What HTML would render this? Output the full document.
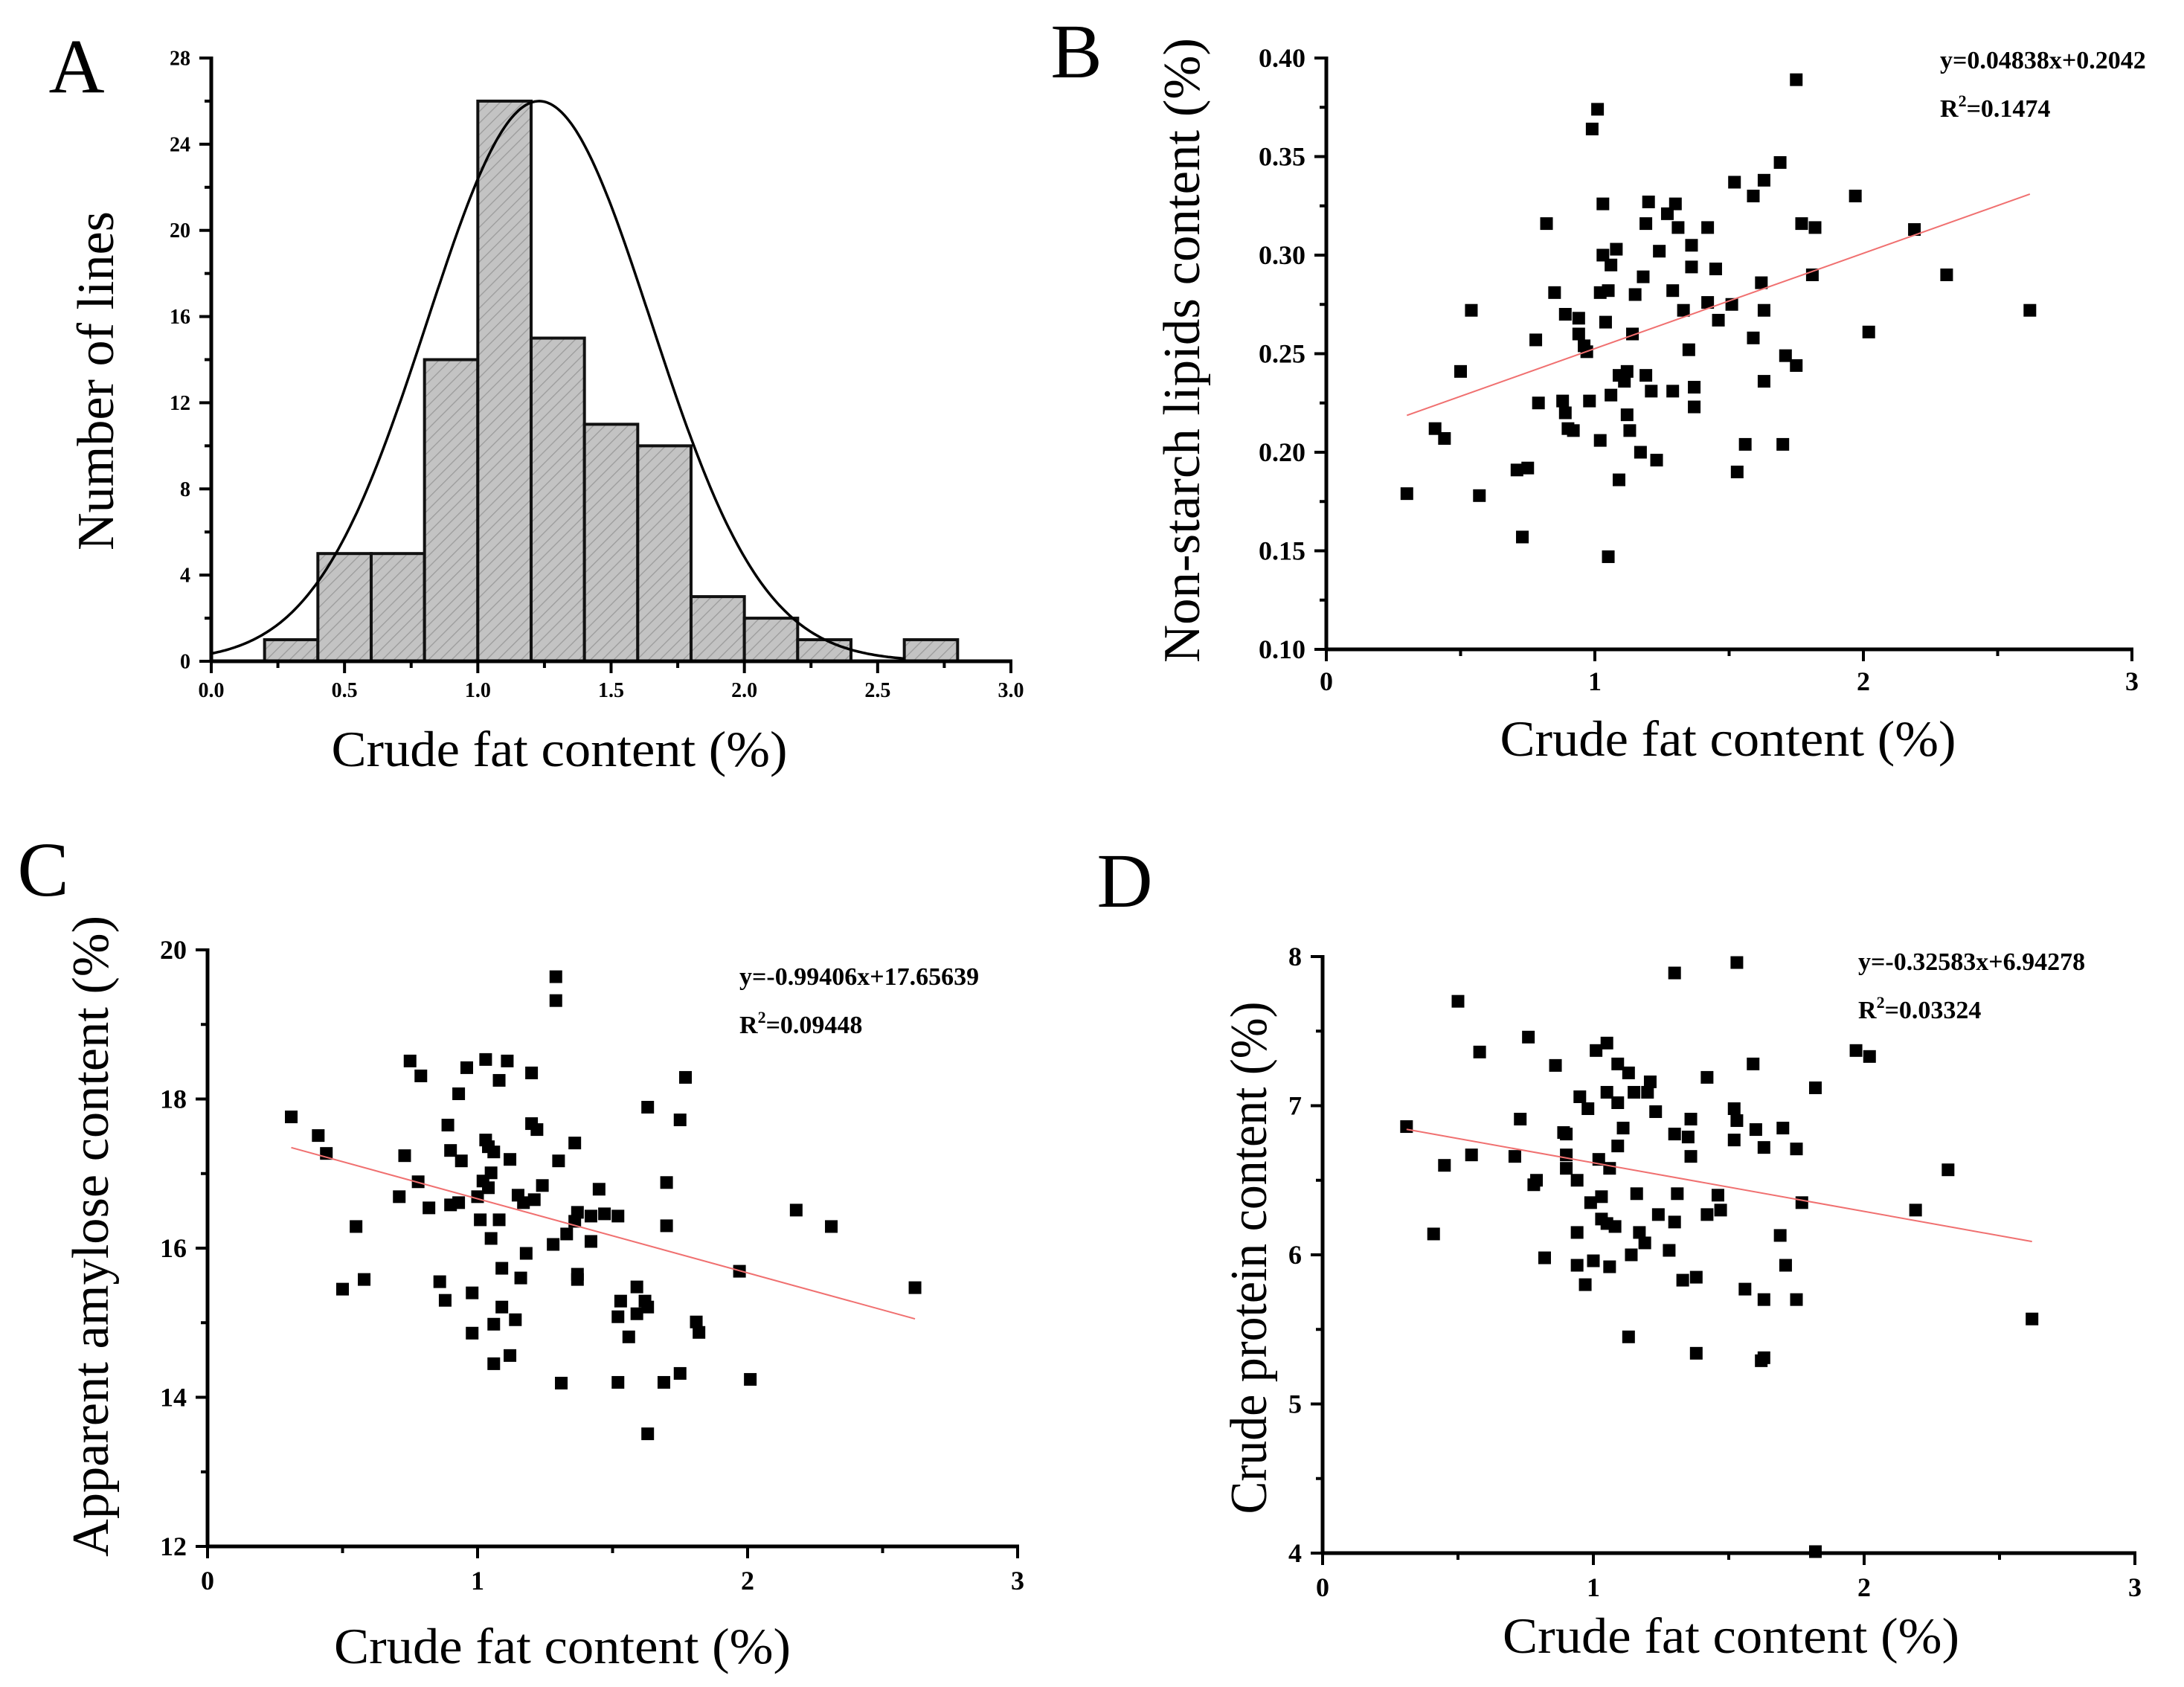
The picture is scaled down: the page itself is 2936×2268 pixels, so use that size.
<!DOCTYPE html>
<html><head><meta charset="utf-8">
<style>
html,body{margin:0;padding:0;background:#fff;}
svg{display:block;}
text{font-family:"Liberation Serif",serif;fill:#000;}
.tk{font-weight:bold;}
</style></head>
<body>
<svg id="fig" xmlns="http://www.w3.org/2000/svg" width="2936" height="2268" viewBox="0 0 2936 2268">
<defs>
<pattern id="hatch" patternUnits="userSpaceOnUse" width="11" height="11" patternTransform="rotate(45)">
<rect width="11" height="11" fill="#c3c3c3"/>
<line x1="0" y1="0" x2="0" y2="11" stroke="#9a9a9a" stroke-width="2.5"/>
</pattern>
</defs>
</svg>
<script>
// ---------- Panel A data ----------
const histEdges = [0.2,0.4,0.6,0.8,1.0,1.2,1.4,1.6,1.8,2.0,2.2,2.4,2.6,2.8];
const histCounts = [1,5,5,14,26,15,11,10,3,2,1,0,1];
const normalMean = [1.23];
const normalSd = [0.42];
const normalPeak = [26];
const aXTicks = ["0.0","0.5","1.0","1.5","2.0","2.5","3.0"];
const aYTicks = ["0","4","8","12","16","20","24","28"];

// ---------- Panel B data ----------
const bX = [0.30,0.405,0.44,0.50,0.54,0.57,0.71,0.73,0.75,0.78,0.79,0.82,0.85,0.88,0.89,0.89,0.90,0.92,0.94,0.94,0.96,0.97,0.98,0.99,1.01,1.02,1.02,1.03,1.03,1.04,1.05,1.05,1.06,1.06,1.08,1.09,1.09,1.11,1.12,1.12,1.13,1.14,1.15,1.17,1.18,1.19,1.19,1.20,1.21,1.23,1.24,1.27,1.29,1.29,1.30,1.31,1.33,1.35,1.36,1.36,1.37,1.37,1.42,1.42,1.45,1.46,1.51,1.52,1.53,1.56,1.59,1.59,1.62,1.63,1.63,1.63,1.69,1.70,1.71,1.75,1.75,1.77,1.82,1.81,1.97,2.02,2.19,2.31,2.62];
const bY = [0.179,0.212,0.207,0.241,0.272,0.178,0.191,0.157,0.192,0.257,0.225,0.316,0.281,0.226,0.270,0.220,0.212,0.211,0.268,0.260,0.254,0.251,0.226,0.364,0.374,0.281,0.206,0.326,0.300,0.266,0.282,0.147,0.295,0.229,0.303,0.239,0.186,0.236,0.219,0.241,0.211,0.260,0.280,0.200,0.289,0.316,0.239,0.327,0.231,0.196,0.302,0.321,0.282,0.231,0.326,0.314,0.272,0.252,0.305,0.294,0.233,0.223,0.314,0.276,0.293,0.267,0.275,0.337,0.190,0.204,0.330,0.258,0.286,0.272,0.236,0.338,0.347,0.204,0.249,0.244,0.389,0.316,0.314,0.290,0.330,0.261,0.313,0.290,0.272];
const bFit = [0.04838,0.2042];
const bXTicks = ["0","1","2","3"];
const bYTicks = ["0.10","0.15","0.20","0.25","0.30","0.35","0.40"];

// ---------- Panel C data ----------
const cX = [0.31,0.41,0.44,0.50,0.55,0.58,0.71,0.73,0.75,0.78,0.79,0.82,0.86,0.88,0.89,0.90,0.90,0.93,0.94,0.93,0.96,0.98,0.98,1.00,1.01,1.02,1.03,1.03,1.04,1.04,1.05,1.05,1.06,1.06,1.06,1.08,1.08,1.09,1.09,1.11,1.12,1.12,1.14,1.15,1.16,1.17,1.18,1.20,1.20,1.21,1.22,1.24,1.28,1.29,1.29,1.30,1.31,1.33,1.36,1.36,1.37,1.37,1.37,1.42,1.42,1.45,1.47,1.52,1.52,1.53,1.52,1.56,1.59,1.59,1.62,1.63,1.63,1.63,1.69,1.70,1.70,1.75,1.75,1.77,1.81,1.82,1.97,2.01,2.18,2.31,2.62];
const cY = [17.76,17.51,17.27,15.45,16.29,15.58,16.69,17.24,18.51,16.89,18.31,16.54,15.55,15.30,17.65,17.31,16.58,16.61,17.17,18.07,18.42,15.40,14.86,16.69,16.38,16.90,17.45,18.53,17.36,16.81,16.13,17.01,14.98,14.45,17.29,18.25,16.38,15.73,15.21,18.51,14.56,17.19,15.04,16.71,15.60,16.61,15.93,18.35,17.67,16.65,17.59,16.84,16.05,19.64,19.32,17.17,14.19,16.19,17.41,16.36,16.48,15.58,15.65,16.09,16.43,16.79,16.46,16.43,15.08,15.29,14.20,14.81,15.48,15.12,15.29,15.21,17.89,13.51,14.20,16.30,16.88,17.72,14.32,18.29,15.01,14.87,15.69,14.24,16.51,16.29,15.47];
const cFit = [-0.99406,17.65639];
const cXTicks = ["0","1","2","3"];
const cYTicks = ["12","14","16","18","20"];

// ---------- Panel D data ----------
const dX = [0.31,0.41,0.45,0.50,0.55,0.58,0.71,0.73,0.76,0.78,0.79,0.82,0.86,0.89,0.90,0.90,0.90,0.94,0.94,0.94,0.95,0.97,0.98,0.99,1.00,1.01,1.02,1.03,1.03,1.05,1.05,1.05,1.06,1.06,1.08,1.09,1.09,1.09,1.11,1.13,1.13,1.14,1.15,1.16,1.17,1.19,1.20,1.21,1.23,1.24,1.28,1.30,1.30,1.30,1.31,1.33,1.35,1.36,1.36,1.38,1.38,1.42,1.42,1.46,1.47,1.52,1.52,1.53,1.53,1.56,1.59,1.60,1.62,1.63,1.63,1.63,1.69,1.70,1.71,1.75,1.75,1.77,1.82,1.82,1.97,2.02,2.19,2.31,2.62];
const dY = [6.86,6.14,6.60,7.70,6.67,7.36,6.66,6.91,7.46,6.47,6.50,5.98,7.27,6.82,6.81,6.67,6.58,6.50,6.15,5.93,7.06,5.80,6.98,6.35,5.96,7.37,6.64,6.39,6.24,7.09,7.42,6.21,6.58,5.92,6.19,7.28,7.02,6.73,6.85,7.22,5.45,6.00,7.09,6.41,6.15,6.08,7.09,7.16,6.96,6.27,6.03,6.81,6.22,7.89,6.41,5.83,6.79,6.91,6.66,5.85,5.34,6.27,7.19,6.40,6.30,6.77,6.98,7.96,6.90,5.77,7.28,6.84,5.29,5.70,6.72,5.31,6.13,6.85,5.93,6.71,5.70,6.35,4.01,7.12,7.37,7.33,6.30,6.57,5.57];
const dFit = [-0.32583,6.94278];
const dXTicks = ["0","1","2","3"];
const dYTicks = ["4","5","6","7","8"];

const NS = "http://www.w3.org/2000/svg";
const svg = document.getElementById("fig");
function mk(tag, attrs, parent){
  const e = document.createElementNS(NS, tag);
  for (const k in attrs) e.setAttribute(k, attrs[k]);
  (parent||svg).appendChild(e);
  return e;
}
function txt(s, attrs, parent){ const t = mk("text", attrs, parent); t.textContent = s; return t; }

function axes(g, P){
  // P: x0,x1,y0,y1 pixel; xmin,xmax,ymin,ymax; xticks labels; yticks labels; minor counts
  const sx = v => P.x0 + (v-P.xmin)/(P.xmax-P.xmin)*(P.x1-P.x0);
  const sy = v => P.y0 - (v-P.ymin)/(P.ymax-P.ymin)*(P.y0-P.y1);
  const ax = mk("g", {}, g);
  
  
  const yl = mk("line",{x1:P.x0,y1:P.y0+2,x2:P.x0,y2:P.y1-2,stroke:"#000","stroke-width":5},ax);
  
  
  const xl = mk("line",{x1:P.x0-2,y1:P.y0,x2:P.x1+2,y2:P.y0,stroke:"#000","stroke-width":5},ax);
  
  
  const nx = P.xticks.length;
  for (let i=0;i<nx;i++){
    const v = P.xmin + i*(P.xmax-P.xmin)/(nx-1);
    const x = sx(v);
    mk("line",{x1:x,y1:P.y0,x2:x,y2:P.y0+16,stroke:"#000","stroke-width":4},ax);
    const t = txt(P.xticks[i],{x:x,y:P.y0+P.xlabOff,"text-anchor":"middle","font-size":P.tfs,class:"tk"},ax);
    
    
    if (i<nx-1){
      for (let m=1;m<P.xminor;m++){
        const xm = sx(v + m*(P.xmax-P.xmin)/(nx-1)/P.xminor);
        mk("line",{x1:xm,y1:P.y0,x2:xm,y2:P.y0+9,stroke:"#000","stroke-width":4},ax);
      }
    }
  }
  const ny = P.yticks.length;
  for (let i=0;i<ny;i++){
    const v = P.ymin + i*(P.ymax-P.ymin)/(ny-1);
    const y = sy(v);
    mk("line",{x1:P.x0,y1:y,x2:P.x0-16,y2:y,stroke:"#000","stroke-width":4},ax);
    const t = txt(P.yticks[i],{x:P.x0-28,y:y+P.tfs*0.34,"text-anchor":"end","font-size":P.tfs,class:"tk"},ax);
    
    
    if (i<ny-1){
      for (let m=1;m<P.yminor;m++){
        const ym = sy(v + m*(P.ymax-P.ymin)/(ny-1)/P.yminor);
        mk("line",{x1:P.x0,y1:ym,x2:P.x0-9,y2:ym,stroke:"#000","stroke-width":4},ax);
      }
    }
  }
  return {sx, sy};
}

function titles(g, P){
  const xt = txt(P.xtitle,{x:P.xtx,y:P.xty,"text-anchor":"middle","font-size":68,textLength:P.xtw,lengthAdjust:"spacingAndGlyphs"},g);
  
  
  const yt = txt(P.ytitle,{x:0,y:0,"text-anchor":"middle","font-size":70,textLength:P.ytw,lengthAdjust:"spacingAndGlyphs",transform:`translate(${P.ytx},${P.yty}) rotate(-90)`},g);
  
  
  const pl = txt(P.letter,{x:P.lx,y:P.ly,"font-size":104,"text-anchor":"middle"},g);
  
  
}

// ===== Panel A =====
const gA = mk("g",{});


const A = axes(gA,{x0:284,x1:1359,y0:889,y1:78,xmin:0,xmax:3,ymin:0,ymax:28,xticks:aXTicks,yticks:aYTicks,xminor:2,yminor:2,tfs:28,xlabOff:48});
for (let i=0;i<histCounts.length;i++){
  if (histCounts[i]===0) continue;
  const x = A.sx(histEdges[i]), x2 = A.sx(histEdges[i+1]), y = A.sy(histCounts[i]);
  const r = mk("rect",{x:x,y:y,width:x2-x,height:A.sy(0)-y,fill:"url(#hatch)",stroke:"#111","stroke-width":4},gA);
  
  
}
let dcurve = "";
for (let i=0;i<=300;i++){
  const v = 0 + i*2.6/300;
  const c = normalPeak[0]*Math.exp(-Math.pow(v-normalMean[0],2)/(2*normalSd[0]*normalSd[0]));
  dcurve += (i?"L":"M")+A.sx(v).toFixed(1)+","+A.sy(c).toFixed(1);
}
const cur = mk("path",{d:dcurve,fill:"none",stroke:"#000","stroke-width":3.5},gA);


// redraw axis line on top
mk("line",{x1:282,y1:889,x2:1361,y2:889,stroke:"#000","stroke-width":5},gA);
titles(gA,{xtitle:"Crude fat content (%)",xtx:752,xty:1030,xtw:613,ytitle:"Number of lines",ytx:152,yty:512,ytw:456,letter:"A",lx:103,ly:124});

function scatter(name, X, Y, fit, P, T, eqx, eqy, eqs, r2s){
  const g = mk("g",{});
  
  
  const S = axes(g,P);
  for (let i=0;i<X.length;i++){
    const r = mk("rect",{x:S.sx(X[i])-8.5,y:S.sy(Y[i])-8.5,width:17,height:17,fill:"#000"},g);
    
    
  }
  const xa = Math.min(...X), xb = Math.max(...X);
  const ln = mk("line",{x1:S.sx(xa),y1:S.sy(fit[0]*xa+fit[1]),x2:S.sx(xb),y2:S.sy(fit[0]*xb+fit[1]),stroke:"#f07070","stroke-width":2},g);
  
  
  const e = txt(eqs,{x:eqx,y:eqy,"font-size":34,"font-weight":"bold"},g);
  
  
  const r2 = mk("text",{x:eqx,y:eqy+65,"font-size":34,"font-weight":"bold"},g);
  
  
  r2.innerHTML = 'R<tspan dy="-14" font-size="22">2</tspan><tspan dy="14">=' + r2s + '</tspan>';
  titles(g,T);
}

scatter("panel-b-scatter", bX, bY, bFit,
  {x0:1783,x1:2866,y0:873,y1:78,xmin:0,xmax:3,ymin:0.10,ymax:0.40,xticks:bXTicks,yticks:bYTicks,xminor:2,yminor:2,tfs:36,xlabOff:55},
  {xtitle:"Crude fat content (%)",xtx:2323,xty:1016,xtw:613,ytitle:"Non-starch lipids content (%)",ytx:1612,yty:471,ytw:840,letter:"B",lx:1447,ly:104},
  2608, 92, "y=0.04838x+0.2042", "0.1474");

scatter("panel-c-scatter", cX, cY, cFit,
  {x0:279,x1:1368,y0:2079,y1:1277,xmin:0,xmax:3,ymin:12,ymax:20,xticks:cXTicks,yticks:cYTicks,xminor:2,yminor:2,tfs:36,xlabOff:58},
  {xtitle:"Crude fat content (%)",xtx:756,xty:2236,xtw:614,ytitle:"Apparent amylose content (%)",ytx:145,yty:1662,ytw:862,letter:"C",lx:58,ly:1204},
  994, 1324, "y=-0.99406x+17.65639", "0.09448");

scatter("panel-d-scatter", dX, dY, dFit,
  {x0:1778,x1:2870,y0:2088,y1:1286,xmin:0,xmax:3,ymin:4,ymax:8,xticks:dXTicks,yticks:dYTicks,xminor:2,yminor:2,tfs:36,xlabOff:58},
  {xtitle:"Crude fat content (%)",xtx:2327,xty:2222,xtw:614,ytitle:"Crude protein content (%)",ytx:1702,yty:1691,ytw:689,letter:"D",lx:1512,ly:1219},
  2498, 1304, "y=-0.32583x+6.94278", "0.03324");
</script>
</body></html>
